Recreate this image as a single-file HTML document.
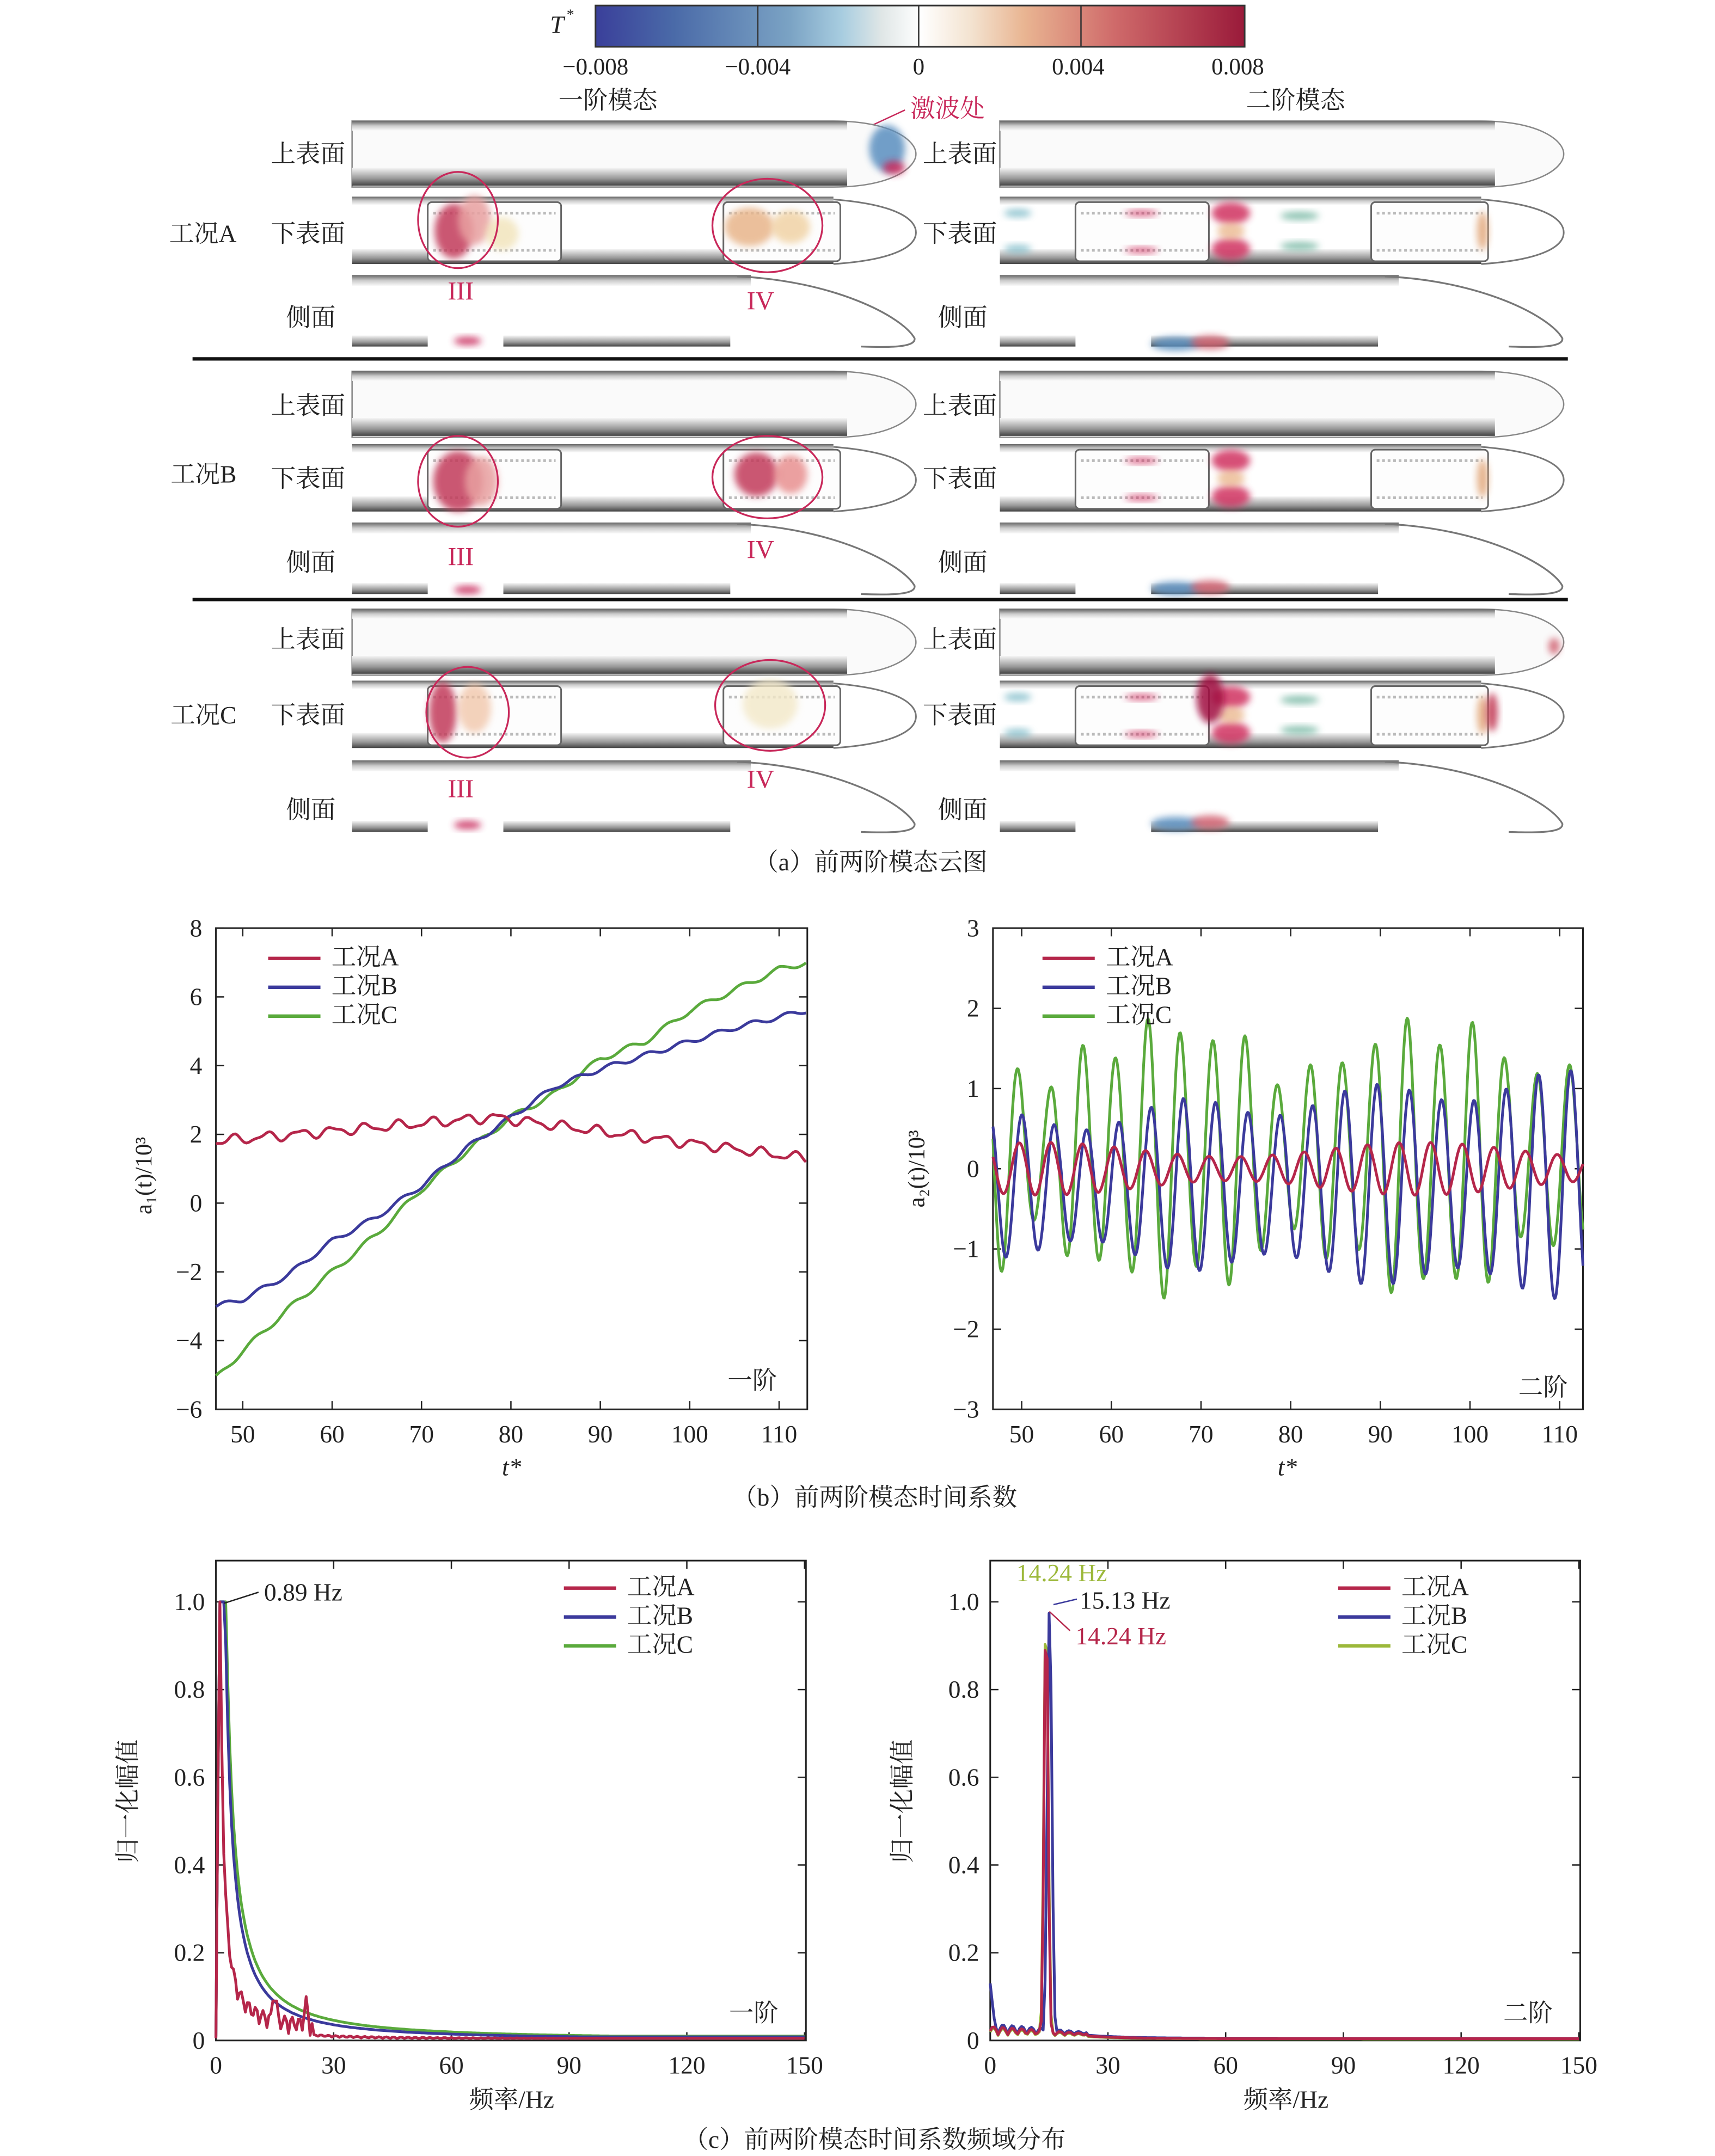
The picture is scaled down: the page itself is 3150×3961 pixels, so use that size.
<!DOCTYPE html>
<html><head><meta charset="utf-8">
<style>
html,body{margin:0;padding:0;background:#fff;}
svg{display:block;}
text{font-family:"Liberation Serif","Noto Serif CJK SC",serif;fill:#222;}
</style></head>
<body>
<svg id="s" width="3150" height="3961" viewBox="0 0 1247 1568" xmlns="http://www.w3.org/2000/svg">
<defs>
<linearGradient id="cb" x1="0" x2="1" y1="0" y2="0">
<stop offset="0" stop-color="#3a3f9a"/><stop offset="0.12" stop-color="#4a6aa8"/><stop offset="0.3" stop-color="#7ba3c4"/><stop offset="0.38" stop-color="#a8cde0"/><stop offset="0.44" stop-color="#dfe6e6"/><stop offset="0.5" stop-color="#ffffff"/><stop offset="0.58" stop-color="#f3e2cf"/><stop offset="0.66" stop-color="#e9b592"/><stop offset="0.8" stop-color="#cf6a6a"/><stop offset="1" stop-color="#9a1a3a"/>
</linearGradient>
<linearGradient id="gt" x1="0" x2="0" y1="0" y2="1"><stop offset="0" stop-color="#666"/><stop offset="0.5" stop-color="#ccc"/><stop offset="1" stop-color="#fafafa"/></linearGradient>
<linearGradient id="gb" x1="0" x2="0" y1="0" y2="1"><stop offset="0" stop-color="#f5f5f5"/><stop offset="0.6" stop-color="#999"/><stop offset="1" stop-color="#444"/></linearGradient>
<filter id="bl" x="-50%" y="-50%" width="200%" height="200%"><feGaussianBlur stdDeviation="2.5"/></filter>
</defs>
<rect width="1247" height="1568" fill="#fff"/>
<text x="400" y="24" font-size="18" font-style="italic">T</text><text x="412" y="14" font-size="11">*</text>
<rect x="433" y="4" width="472" height="30" fill="url(#cb)" stroke="#333" stroke-width="1.2"/>
<g stroke="#333" stroke-width="1"><line x1="551" y1="4" x2="551" y2="34"/><line x1="668" y1="4" x2="668" y2="34"/><line x1="786" y1="4" x2="786" y2="34"/></g>
<g font-size="17" text-anchor="middle"><text x="433" y="54">−0.008</text><text x="551" y="54">−0.004</text><text x="668" y="54">0</text><text x="784" y="54">0.004</text><text x="900" y="54">0.008</text></g>
<text x="442" y="79" font-size="18" text-anchor="middle">一阶模态</text>
<text x="942" y="79" font-size="18" text-anchor="middle">二阶模态</text>
<text x="662" y="85" font-size="18" style="fill:#c8285a">激波处</text>
<line x1="630" y1="93" x2="658" y2="80" stroke="#c8285a" stroke-width="1"/>
<g id="trains"></g>
<g stroke="#111" stroke-width="2.5"><line x1="140" y1="261" x2="1140" y2="261"/><line x1="140" y1="436" x2="1140" y2="436"/></g>
<g font-size="18" text-anchor="end">
<text x="251" y="118">上表面</text><text x="251" y="176">下表面</text><text x="244" y="237">侧面</text>
<text x="172" y="176">工况A</text>
<text x="251" y="301">上表面</text><text x="251" y="354">下表面</text><text x="244" y="415">侧面</text>
<text x="172" y="351">工况B</text>
<text x="251" y="471">上表面</text><text x="251" y="526">下表面</text><text x="244" y="595">侧面</text>
<text x="172" y="526">工况C</text>
<text x="725" y="118">上表面</text><text x="725" y="176">下表面</text><text x="718" y="237">侧面</text>
<text x="725" y="301">上表面</text><text x="725" y="354">下表面</text><text x="718" y="415">侧面</text>
<text x="725" y="471">上表面</text><text x="725" y="526">下表面</text><text x="718" y="595">侧面</text>
</g>
<g fill="none" stroke="#c8285a" stroke-width="1.3">
<ellipse cx="333" cy="160" rx="29" ry="35"/><ellipse cx="558" cy="164" rx="40" ry="34"/>
<ellipse cx="333" cy="350" rx="29" ry="33"/><ellipse cx="558" cy="347" rx="40" ry="30"/>
<ellipse cx="340" cy="518" rx="30" ry="33"/><ellipse cx="560" cy="513" rx="40" ry="33"/>
</g>
<g font-size="19" text-anchor="middle">
<text x="335" y="218" style="fill:#c8285a">III</text><text x="553" y="225" style="fill:#c8285a">IV</text>
<text x="335" y="411" style="fill:#c8285a">III</text><text x="553" y="406" style="fill:#c8285a">IV</text>
<text x="335" y="580" style="fill:#c8285a">III</text><text x="553" y="573" style="fill:#c8285a">IV</text>
</g>
<text x="633" y="633" font-size="18" text-anchor="middle">（a）前两阶模态云图</text>
<g id="pb"></g>
<text x="636" y="1095" font-size="18" text-anchor="middle">（b）前两阶模态时间系数</text>
<g id="pc"></g>
<text x="636" y="1562" font-size="18" text-anchor="middle">（c）前两阶模态时间系数频域分布</text>
</svg>
<script>
var NS="http://www.w3.org/2000/svg";
function el(p,tag,a,txt){var e=document.createElementNS(NS,tag);for(var k in a)e.setAttribute(k,a[k]);if(txt!==undefined)e.textContent=txt;p.appendChild(e);return e;}
var T=document.getElementById('trains');
function upper(x,y){
 el(T,'path',{d:'M'+x+' '+y+'H'+(x+350)+'C'+(x+392)+' '+y+' '+(x+410)+' '+(y+14)+' '+(x+410)+' '+(y+24)+'C'+(x+410)+' '+(y+34)+' '+(x+392)+' '+(y+48)+' '+(x+350)+' '+(y+48)+'H'+x+'Z',fill:'#fafafa',stroke:'#888','stroke-width':1});
 el(T,'rect',{x:x,y:y,width:360,height:7,fill:'url(#gt)'});
 el(T,'rect',{x:x,y:y+34,width:360,height:13,fill:'url(#gb)'});
}
function lower(x,y){
 el(T,'rect',{x:x,y:y,width:350,height:6,fill:'url(#gt)'});
 el(T,'rect',{x:x,y:y+38,width:350,height:11,fill:'url(#gb)'});
 el(T,'path',{d:'M'+(x+350)+' '+(y+2)+'C'+(x+400)+' '+(y+6)+' '+(x+410)+' '+(y+18)+' '+(x+410)+' '+(y+26)+'C'+(x+410)+' '+(y+36)+' '+(x+395)+' '+(y+46)+' '+(x+350)+' '+(y+49),fill:'none',stroke:'#777','stroke-width':1.2});
 [[55,152],[270,355]].forEach(function(b){
  el(T,'rect',{x:x+b[0],y:y+4,width:b[1]-b[0],height:43,rx:3,fill:'#fdfdfd',stroke:'#666','stroke-width':1.2});
  el(T,'line',{x1:x+b[0]+4,y1:y+12,x2:x+b[1]-4,y2:y+12,stroke:'#bbb','stroke-width':2,'stroke-dasharray':'2 2'});
  el(T,'line',{x1:x+b[0]+4,y1:y+39,x2:x+b[1]-4,y2:y+39,stroke:'#bbb','stroke-width':2,'stroke-dasharray':'2 2'});
 });
}
function side(x,y){
 el(T,'rect',{x:x,y:y,width:290,height:8,fill:'url(#gt)'});
 el(T,'path',{d:'M'+(x+280)+' '+(y+1)+'C'+(x+350)+' '+(y+4)+' '+(x+400)+' '+(y+30)+' '+(x+409)+' '+(y+46)+'C'+(x+410)+' '+(y+52)+' '+(x+395)+' '+(y+53)+' '+(x+370)+' '+(y+52),fill:'none',stroke:'#777','stroke-width':1.3});
 el(T,'rect',{x:x,y:y+44,width:55,height:8,fill:'url(#gb)'});
 el(T,'rect',{x:x+110,y:y+44,width:165,height:8,fill:'url(#gb)'});
}
var rows=[[88,143,200],[270,323,380],[443,495,553]];
rows.forEach(function(r){[256,727].forEach(function(x){upper(x,r[0]);lower(x,r[1]);side(x,r[2]);});});
function blob(cx,cy,rx,ry,c,o){el(T,'ellipse',{cx:cx,cy:cy,rx:rx,ry:ry,fill:c,opacity:o||0.85,filter:'url(#bl)'});}
blob(645,108,13,17,'#5a8fc0');blob(650,122,8,5,'#c8285a');
blob(330,168,14,20,'#c23a5a');blob(345,160,12,18,'#e8a0a0');blob(365,170,12,12,'#f0e0b0',0.7);
blob(545,165,18,14,'#e8b58a');blob(575,165,14,12,'#f0d0a0',0.8);
blob(340,248,10,3,'#c8285a');
blob(333,350,18,22,'#c23a5a');blob(350,350,12,18,'#e8a0a0');
blob(550,345,16,16,'#c23a5a');blob(575,345,12,14,'#e89090');
blob(340,429,10,3,'#c8285a');
blob(322,518,10,22,'#c23a5a');blob(345,515,12,18,'#f0c0a0',0.7);
blob(560,512,20,18,'#f3e8c8',0.8);
blob(340,600,10,3,'#c8285a');
[[143],[323],[495]].forEach(function(r,i){var y=r[0];
 blob(895,y+12,14,8,'#d03060');blob(895,y+38,14,8,'#d03060');blob(895,y+25,10,6,'#e8b080',0.7);
 blob(830,y+12,12,2,'#d03060');blob(830,y+39,12,2,'#d03060');
 if(i!=1){blob(945,y+14,14,3,'#5aa890',0.7);blob(945,y+36,14,3,'#5aa890',0.7);blob(740,y+12,10,3,'#6ab0c0',0.7);blob(740,y+38,10,3,'#6ab0c0',0.7);}
 blob(1078,y+25,4,14,'#e0a070',0.8);
});
blob(880,508,10,18,'#a01040');blob(1085,518,4,14,'#c03050');
[[252],[430],[601]].forEach(function(r){var y=r[0];blob(855,y-2,18,5,'#5a8fc0');blob(880,y-3,14,5,'#d06070');});
blob(1130,470,4,6,'#d06070');

function axes(g,x0,y0,x1,y1){el(g,'rect',{x:x0,y:y0,width:x1-x0,height:y1-y0,fill:'none',stroke:'#222','stroke-width':1.2});}
function poly(g,pts,c,w){var d='';pts.forEach(function(p,i){d+=(i?'L':'M')+p[0].toFixed(1)+' '+p[1].toFixed(1);});el(g,'path',{d:d,fill:'none',stroke:c,'stroke-width':w||2,'stroke-linejoin':'round'});}
function legend(g,x,y,cols,names,dy){for(var i=0;i<3;i++){el(g,'line',{x1:x,y1:y+i*dy-5,x2:x+38,y2:y+i*dy-5,stroke:cols[i],'stroke-width':2.5});el(g,'text',{x:x+46,y:y+i*dy,'font-size':18},names[i]);}}
function interp(P,t){for(var i=0;i<P.length-1;i++){if(t<=P[i+1][0]){var u=(t-P[i][0])/(P[i+1][0]-P[i][0]);var s=u*u*(3-2*u);var a=P[i][1]+(P[i+1][1]-P[i][1])*u;return a;}}return P[P.length-1][1];}
var A='#b5264a',B='#3b3a9c',C='#5aaa3c',C2='#9cb83a';
var names=['工况A','工况B','工况C'];
var PB=document.getElementById('pb');
(function(){var g=PB,x0=157,x1=587,y0=675,y1=1025;
 function X(t){return x0+(t-47)*6.5;} function Y(v){return y1-(v+6)*25;}
 axes(g,x0,y0,x1,y1);
 for(var v=-6;v<=8;v+=2){el(g,'line',{x1:x0,y1:Y(v),x2:x0+6,y2:Y(v),stroke:'#222'});el(g,'line',{x1:x1,y1:Y(v),x2:x1-6,y2:Y(v),stroke:'#222'});el(g,'text',{x:x0-10,y:Y(v)+6,'font-size':18,'text-anchor':'end'},v<0?'−'+(-v):''+v);}
 for(var t=50;t<=110;t+=10){el(g,'line',{x1:X(t),y1:y1,x2:X(t),y2:y1-6,stroke:'#222'});el(g,'line',{x1:X(t),y1:y0,x2:X(t),y2:y0+6,stroke:'#222'});el(g,'text',{x:X(t),y:y1+24,'font-size':18,'text-anchor':'middle'},''+t);}
 var PBp=[[47,-3],[50,-2.8],[55,-2.1],[60,-1.1],[65,-0.4],[70,0.5],[75,1.6],[80,2.5],[85,3.4],[90,3.9],[95,4.3],[100,4.7],[105,5.1],[113,5.6]];
 var PCp=[[47,-5.1],[50,-4.3],[55,-3.1],[60,-2],[65,-0.9],[70,0.4],[75,1.5],[80,2.5],[85,3.2],[90,4.2],[95,4.7],[100,5.6],[105,6.2],[110,6.8],[113,7]];
 var a=[],b=[],c=[];
 for(var t=47;t<=113.1;t+=0.2){
  var va=(t<78?1.8+0.7*(t-47)/31:2.5-1.2*(t-78)/35)+0.12*Math.sin(t*1.7)+0.05*Math.sin(t*3.1);
  var vb=interp(PBp,t)+0.07*Math.sin(t*1.6);
  var vc=interp(PCp,t)+0.08*Math.sin(t*1.5);
  a.push([X(t),Y(va)]);b.push([X(t),Y(vb)]);c.push([X(t),Y(vc)]);}
 poly(g,c,C);poly(g,b,B);poly(g,a,A);
 legend(g,195,702,[A,B,C],names,21);
 el(g,'text',{x:565,y:1010,'font-size':18,'text-anchor':'end'},'一阶');
 el(g,'text',{x:372,y:1073,'font-size':18,'font-style':'italic','text-anchor':'middle'},'t*');
 el(g,'text',{x:0,y:0,'font-size':17,'text-anchor':'middle',transform:'translate(110,855) rotate(-90)'},'a₁(t)/10³');
})();
(function(){var g=PB,x0=722,x1=1151,y0=675,y1=1025;
 function X(t){return x0+(t-46.8)*6.52;} function Y(v){return y1-(v+3)*58.33;}
 axes(g,x0,y0,x1,y1);
 for(var v=-3;v<=3;v+=1){el(g,'line',{x1:x0,y1:Y(v),x2:x0+6,y2:Y(v),stroke:'#222'});el(g,'line',{x1:x1,y1:Y(v),x2:x1-6,y2:Y(v),stroke:'#222'});el(g,'text',{x:x0-10,y:Y(v)+6,'font-size':18,'text-anchor':'end'},v<0?'−'+(-v):''+v);}
 for(var t=50;t<=110;t+=10){el(g,'line',{x1:X(t),y1:y1,x2:X(t),y2:y1-6,stroke:'#222'});el(g,'line',{x1:X(t),y1:y0,x2:X(t),y2:y0+6,stroke:'#222'});el(g,'text',{x:X(t),y:y1+24,'font-size':18,'text-anchor':'middle'},''+t);}
 var a=[],b=[],c=[];
 for(var t=46.8;t<=112.6;t+=0.1){
  var w=2*Math.PI/3.6;
  var va=0.3*Math.sin(w*t*1.02+1)*(0.8+0.3*Math.sin(t*0.15));
  var ab=0.75+0.55*(t-46.8)/66+0.15*Math.sin(t*0.3);
  var vb=ab*Math.sin(w*t+2.2)-0.2;
  var ac=0.9+0.7*Math.abs(Math.sin(t*0.11+0.5))+0.2*Math.sin(t*0.7);
  var vc=ac*Math.sin(w*t*0.995+3.4)+0.15;
  a.push([X(t),Y(va)]);b.push([X(t),Y(vb)]);c.push([X(t),Y(vc)]);}
 poly(g,c,C);poly(g,b,B);poly(g,a,A);
 legend(g,758,702,[A,B,C],names,21);
 el(g,'text',{x:1140,y:1015,'font-size':18,'text-anchor':'end'},'二阶');
 el(g,'text',{x:936,y:1073,'font-size':18,'font-style':'italic','text-anchor':'middle'},'t*');
 el(g,'text',{x:0,y:0,'font-size':17,'text-anchor':'middle',transform:'translate(672,850) rotate(-90)'},'a₂(t)/10³');
})();
var PC=document.getElementById('pc');
function spec(x0,right){var g=PC,x1=x0+429,y0=1135,y1=1484;
 function X(f){return x0+f*428/150;} function Y(v){return y1-v*319;}
 axes(g,x0,y0,x1,y1);
 for(var i=0;i<=5;i++){var v=i*0.2;el(g,'line',{x1:x0,y1:Y(v),x2:x0+6,y2:Y(v),stroke:'#222'});el(g,'line',{x1:x1,y1:Y(v),x2:x1-6,y2:Y(v),stroke:'#222'});el(g,'text',{x:x0-8,y:Y(v)+6,'font-size':18,'text-anchor':'end'},i==0?'0':v.toFixed(1));}
 for(var f=0;f<=150;f+=30){el(g,'line',{x1:X(f),y1:y1,x2:X(f),y2:y1-6,stroke:'#222'});el(g,'line',{x1:X(f),y1:y0,x2:X(f),y2:y0+6,stroke:'#222'});el(g,'text',{x:X(f),y:y1+24,'font-size':18,'text-anchor':'middle'},''+f);}
 var a=[],b=[],c=[];
 if(!right){
  for(var f=0;f<=150;f+=0.5){
   var vb=f<0.9?f/0.9:Math.min(1,0.2/Math.pow(f/8,1.3));
   var vc=f<0.9?f/0.9:Math.min(1,0.24/Math.pow(f/8,1.25));
   var va=f<0.9?f/0.9:Math.min(1,0.08/Math.pow(f/6,1.5)+0.04*Math.abs(Math.sin(f*1.7))*(f<25?1:0.1));
   if(f>0.9&&f<3)va=Math.max(va,0.35-0.12*(f-1));
   if(Math.abs(f-23)<1)va=0.1-0.08*Math.abs(f-23);
   if(Math.abs(f-15)<1)va=Math.max(va,0.09);
   a.push([X(f),Y(Math.max(va,0.005))]);b.push([X(f),Y(Math.max(vb,0.008))]);c.push([X(f),Y(Math.max(vc,0.01))]);}
 } else {
  for(var f=0;f<=150;f+=0.5){
   function pk(f0,wd){return Math.exp(-Math.pow((f-f0)/wd,2));}
   var n=f<25?0.012+0.02*Math.abs(Math.sin(f*1.3+0.5))*(1-f/30):0.004+0.006*Math.exp(-(f-25)/10);
   var va=Math.max(pk(14.24,0.7),n);
   var vb=Math.max(pk(15.13,0.8),n*1.2); if(f<1.5)vb=0.13-0.08*f;
   var vc=Math.max(pk(14.24,0.75),n*0.9);
   a.push([X(f),Y(va)]);b.push([X(f),Y(vb)]);c.push([X(f),Y(vc)]);}
 }
 poly(g,c,right?C2:C,2);poly(g,b,B,2);poly(g,a,A,2);
 legend(g,x0+253,1160,[A,B,right?C2:C],names,21);
 el(g,'text',{x:x1-20,y:1470,'font-size':18,'text-anchor':'end'},right?'二阶':'一阶');
 el(g,'text',{x:x0+215,y:1533,'font-size':18,'text-anchor':'middle'},'频率/Hz');
 el(g,'text',{x:0,y:0,'font-size':18,'text-anchor':'middle',transform:'translate('+(x0-58)+',1310) rotate(-90)'},'归一化幅值');
}
spec(157,false);spec(720,true);
el(PC,'text',{x:192,y:1164,'font-size':18},'0.89 Hz');
el(PC,'line',{x1:163,y1:1166,x2:188,y2:1158,stroke:'#222','stroke-width':1});
el(PC,'text',{x:739,y:1150,'font-size':18,style:'fill:#9cb83a'},'14.24 Hz');
el(PC,'text',{x:785,y:1170,'font-size':18},'15.13 Hz');
el(PC,'line',{x1:766,y1:1167,x2:783,y2:1163,stroke:'#3b3a9c','stroke-width':1});
el(PC,'text',{x:782,y:1196,'font-size':18,style:'fill:#b5264a'},'14.24 Hz');
el(PC,'line',{x1:763,y1:1172,x2:778,y2:1186,stroke:'#b5264a','stroke-width':1});
</script>
</body></html>
